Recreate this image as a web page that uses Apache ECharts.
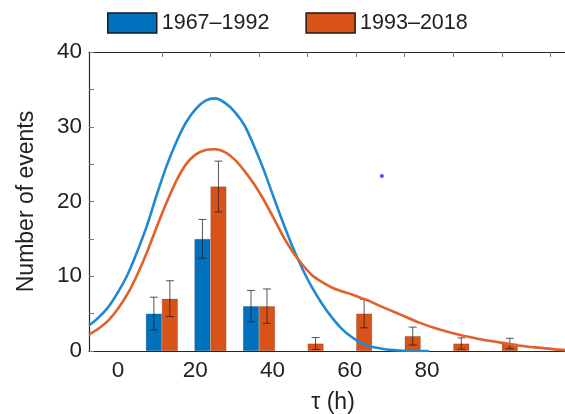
<!DOCTYPE html>
<html>
<head>
<meta charset="utf-8">
<script src="https://cdn.jsdelivr.net/npm/echarts@6/dist/echarts.min.js"></script>
<style>
  html, body { margin: 0; padding: 0; background: #fff; }
  #chart { width: 565px; height: 414px; }
</style>
</head>
<body>
<div id="chart"></div>
<script>
	// bin centres (h)
	var binX = [10, 20, 30, 40, 50, 60, 70, 80];
	var countsEarly = [5, 15, 6, 0, 0, 0, 0, 0];     // 1967-1992
	var countsLate = [7, 22, 6, 1, 5, 2, 1, 1];      // 1993-2018
	var errEarly = [2.2, 2.6, 2.1, 0, 0, 0, 0, 0];
	var errLate = [2.4, 3.4, 2.3, 0.8, 1.9, 1.2, 0.75, 0.7];

	// fitted curves
	var fitEarlyX = [-5, -3, -1, 1, 3, 5, 7, 9, 11, 13, 15, 17, 19, 21, 23, 25, 27, 29, 31, 33, 35,
		37, 39, 41, 43, 45, 47, 49, 51, 53, 55, 57, 59, 61, 63, 65];
	var fitEarlyY = [3.4, 4.5, 5.9, 7.9, 10.3, 13.4, 16.9, 21.0, 24.8, 28.0, 30.6, 32.4, 33.5, 33.8, 33.2, 32.0, 30.2, 27.4, 24.2, 20.6, 17.1,
		13.8, 10.9, 8.4, 6.3, 4.5, 3.0, 1.9, 1.1, 0.6, 0.35, 0.15, 0.07, 0.03, 0.01, 0];
	var fitLateX = [-5, -3, -1, 1, 3, 5, 7, 9, 11, 13, 15, 17, 19, 21, 23, 25, 27, 29, 31, 33, 35,
		37, 39, 41, 43, 45, 47, 49, 51, 53, 55, 59, 63, 67, 71, 75, 79, 83, 87, 91, 93];
	var fitLateY = [2.2, 3.0, 4.1, 5.7, 7.7, 10.3, 13.3, 16.7, 19.9, 22.8, 25.0, 26.3, 26.9, 27.0, 26.6, 25.6, 24.1, 22.3, 20.2, 17.8, 15.3,
		13.2, 11.5, 10.1, 9.2, 8.5, 8.0, 7.6, 7.1, 6.6, 6.0, 4.9, 3.8, 2.9, 2.2, 1.65, 1.2, 0.78, 0.48, 0.22, 0.12];

	var xLabels = [0, 20, 40, 60, 80];
	var dot = [[55.3, 23.4]];

	var blue = '#0072BD';
	var orange = '#D95319';
	var font = 'Liberation Sans, Arial, Helvetica, sans-serif';

	function pairs(xs, ys){
		var out = [];
		for (var i = 0; i < xs.length; i++) {
			out.push([xs[i], ys[i]]);
		}
		return out;
	}

	function barData(ys, errs){
		var out = [];
		for (var i = 0; i < binX.length; i++) {
			if (ys[i] > 0) out.push([binX[i], ys[i], errs[i]]);
		}
		return out;
	}

	// error bar, shifted by half a bar
	function errSeries(name, data, dx){
		return {
			name: name,
			type: 'custom',
			xAxisIndex: 0,
			z: 5,
			data: data,
			renderItem: function(params, api){
				var x = api.value(0), y = api.value(1), e = api.value(2);
				var top = api.coord([x, y + e]);
				var bot = api.coord([x, y - e]);
				var cx = top[0] + dx;
				var style = { stroke: 'rgba(30,30,30,0.75)', lineWidth: 1 };
				return {
					type: 'group',
					children: [
						{ type: 'line', shape: { x1: cx, y1: top[1], x2: cx, y2: bot[1] }, style: style },
						{ type: 'line', shape: { x1: cx - 4, y1: top[1], x2: cx + 4, y2: top[1] }, style: style },
						{ type: 'line', shape: { x1: cx - 4, y1: bot[1], x2: cx + 4, y2: bot[1] }, style: style }
					]
				};
			}
		};
	}

	var myChart = echarts.init(document.getElementById('chart'));

	var option = {
		animation: false,
		textStyle: { fontFamily: font },
		legend: {
			data: ['1967–1992', '1993–2018'],
			left: 102,
			top: 7,
			itemWidth: 49,
			itemHeight: 20,
			itemGap: 36,
			icon: 'rect',
			itemStyle: { borderColor: '#1a1a1a', borderWidth: 1.5 },
			textStyle: { fontSize: 21.5, color: '#222', fontFamily: font }
		},
		grid: { left: 89, top: 52, right: 0, bottom: 63, containLabel: false, outerBoundsMode: 'none' },
		xAxis: [
			{
				type: 'value',
				position: 'top',
				min: -5,
				max: 93,
				axisLine: { show: true, onZero: false, lineStyle: { color: '#262626', width: 1.2 } },
				axisTick: { show: true, inside: true, length: 5, customValues: binX.concat([90]), lineStyle: { color: '#777' } },
				axisLabel: { show: false },
				splitLine: { show: false }
			},
			{
				type: 'value',
				position: 'bottom',
				min: -7.5,
				max: 115.7,
				name: 'τ (h)',
				nameLocation: 'middle',
				nameGap: 40,
				nameTextStyle: { fontSize: 23, color: '#222', fontFamily: font, padding: [0, 0, 0, 12] },
				axisLine: { show: true, onZero: false, lineStyle: { color: '#262626', width: 1.2 } },
				axisTick: { show: false },
				axisLabel: { customValues: xLabels, fontSize: 22.5, color: '#222', margin: 8, fontFamily: font },
				splitLine: { show: false }
			}
		],
		yAxis: {
			type: 'value',
			min: 0,
			max: 40,
			interval: 5,
			name: 'Number of events',
			nameLocation: 'middle',
			nameGap: 51,
			nameTextStyle: { fontSize: 23, color: '#222', fontFamily: font },
			axisLine: { show: true, onZero: false, lineStyle: { color: '#262626', width: 1.2 } },
			axisTick: { show: true, inside: true, length: 5, lineStyle: { color: '#777' } },
			axisLabel: {
				fontSize: 22.5, color: '#222', margin: 7, fontFamily: font,
				formatter: function(v){ return v % 10 === 0 ? v : ''; }
			},
			splitLine: { show: false }
		},
		series: [
			{
				name: '1967–1992',
				type: 'bar',
				xAxisIndex: 0,
				barWidth: 16,
				barGap: '0%',
				itemStyle: { color: blue, borderColor: 'rgba(0,0,0,0.25)', borderWidth: 0.6 },
				data: barData(countsEarly, errEarly)
			},
			{
				name: '1993–2018',
				type: 'bar',
				xAxisIndex: 0,
				barWidth: 16,
				barGap: '0%',
				itemStyle: { color: orange, borderColor: 'rgba(0,0,0,0.25)', borderWidth: 0.6 },
				data: barData(countsLate, errLate)
			},
			errSeries('errEarly', barData(countsEarly, errEarly), -8),
			errSeries('errLate', barData(countsLate, errLate), 8),
			{
				name: 'fitEarly',
				type: 'line',
				xAxisIndex: 0,
				smooth: 0.3,
				symbol: 'none',
				z: 6,
				lineStyle: { color: '#1f8ad2', width: 2.6 },
				data: pairs(fitEarlyX, fitEarlyY)
			},
			{
				name: 'fitLate',
				type: 'line',
				xAxisIndex: 0,
				smooth: 0.3,
				symbol: 'none',
				z: 6,
				lineStyle: { color: '#e0612a', width: 2.6 },
				data: pairs(fitLateX, fitLateY)
			},
			{
				name: 'dot',
				type: 'scatter',
				xAxisIndex: 0,
				symbolSize: 4,
				itemStyle: { color: '#1a1aff' },
				data: dot
			}
		]
	};

	myChart.setOption(option);
</script>
</body>
</html>
